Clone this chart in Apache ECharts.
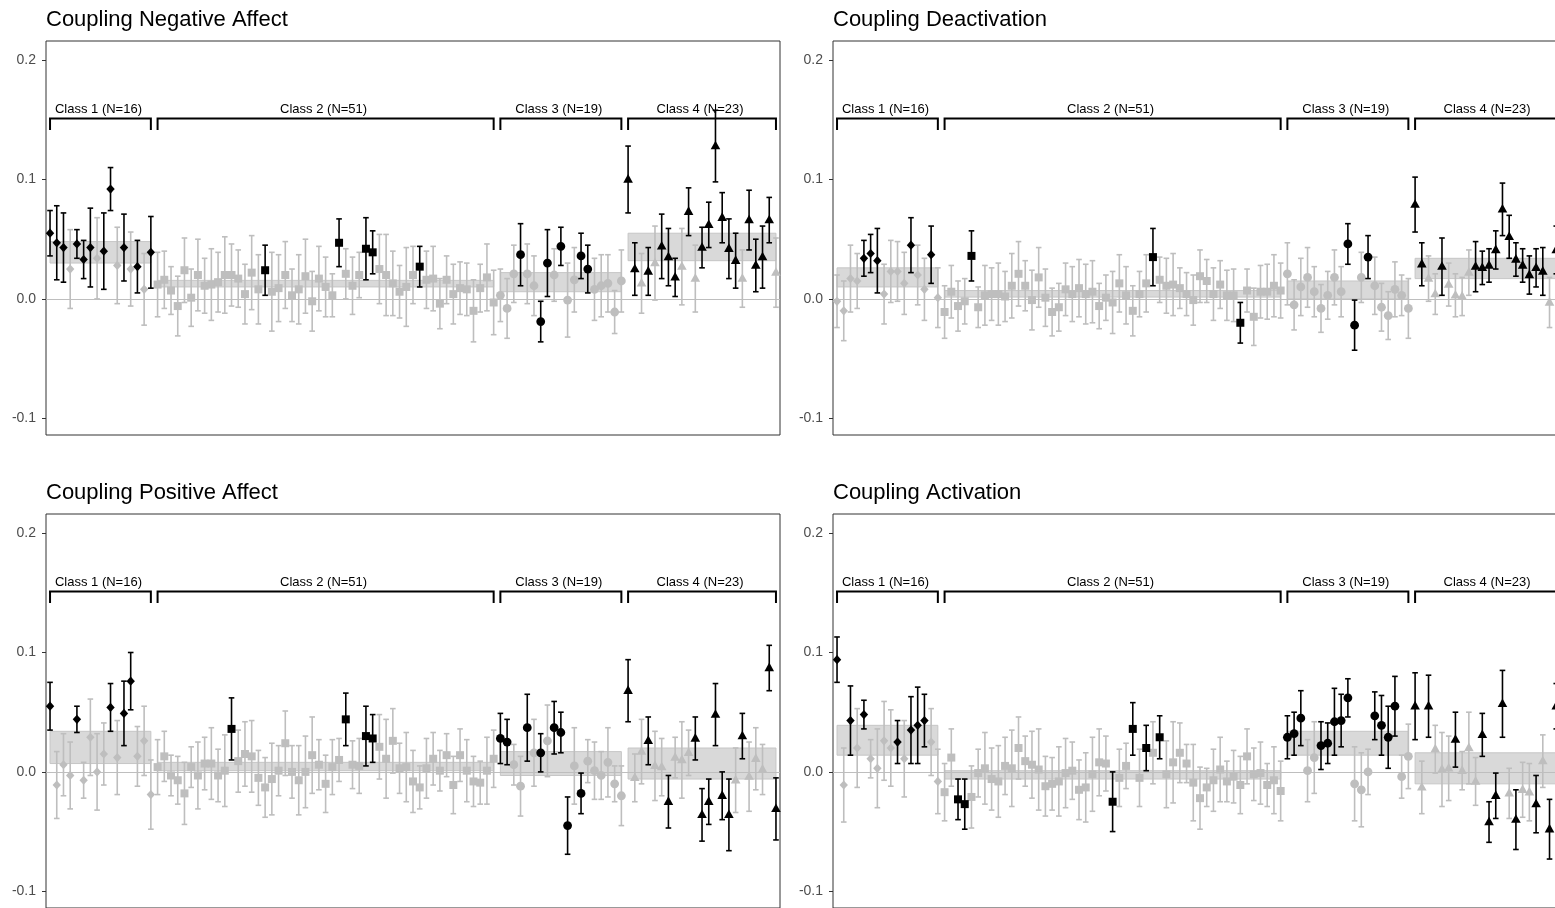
<!DOCTYPE html>
<html lang="en">
<head>
<meta charset="UTF-8">
<title>Coupling by class</title>
<script src="https://cdn.jsdelivr.net/npm/echarts@6/dist/echarts.min.js"></script>
<style>
  html, body { margin: 0; padding: 0; background: #fff; overflow: hidden; }
  #main { width: 1580px; height: 920px; }
</style>
</head>
<body>
<div id="main"></div>
<script>
// class sizes and labels, shared by all four panels
const classN = [16, 51, 19, 23];
const classNames = ['Class 1 (N=16)', 'Class 2 (N=51)', 'Class 3 (N=19)', 'Class 4 (N=23)'];
const yTicks = [-0.1, 0, 0.1, 0.2];
const titles = ['Coupling Negative Affect', 'Coupling Deactivation', 'Coupling Positive Affect', 'Coupling Activation'];

// Coupling Negative Affect
const naVal = [
  0.055, 0.047, 0.043, 0.025, 0.046, 0.033, 0.043, 0.034, 0.040, 0.092, 0.028, 0.043, 0.025, 0.027, 0.008, 0.039,
  0.012, 0.016, 0.007, -0.006, 0.024, 0.001, 0.020, 0.011, 0.012, 0.014, 0.020, 0.020, 0.017, 0.004, 0.022, 0.008, 0.024,
  0.006, 0.009, 0.020, 0.003, 0.008, 0.019, -0.002, 0.017, 0.010, 0.003, 0.047, 0.021, 0.011, 0.020, 0.042, 0.039, 0.025,
  0.020, 0.013, 0.006, 0.010, 0.020, 0.027, 0.016, 0.017, -0.004, 0.016, 0.004, 0.009, 0.008, -0.010, 0.009, 0.018, -0.003,
  0.003, -0.008, 0.021, 0.037, 0.021, 0.011, -0.019, 0.030, 0.020, 0.044, -0.001, 0.016, 0.036, 0.025, 0.008, 0.011, 0.013, -0.011, 0.015,
  0.100, 0.025, 0.013, 0.023, 0.030, 0.044, 0.035, 0.018, 0.027, 0.073, 0.017, 0.043, 0.062, 0.128, 0.068, 0.042, 0.032, 0.017, 0.066, 0.028, 0.035, 0.066, 0.022
];
const naErr = [
  0.019, 0.031, 0.029, 0.033, 0.012, 0.016, 0.033, 0.034, 0.032, 0.018, 0.032, 0.028, 0.031, 0.022, 0.030, 0.030,
  0.027, 0.024, 0.020, 0.025, 0.027, 0.024, 0.030, 0.023, 0.030, 0.025, 0.032, 0.026, 0.024, 0.025, 0.031, 0.029, 0.021,
  0.033, 0.028, 0.028, 0.022, 0.029, 0.031, 0.025, 0.027, 0.025, 0.018, 0.020, 0.021, 0.024, 0.019, 0.026, 0.018, 0.029,
  0.034, 0.027, 0.022, 0.033, 0.024, 0.017, 0.024, 0.027, 0.021, 0.020, 0.025, 0.022, 0.022, 0.026, 0.020, 0.028, 0.027,
  0.022, 0.025, 0.024, 0.026, 0.025, 0.025, 0.017, 0.028, 0.022, 0.016, 0.031, 0.027, 0.019, 0.020, 0.026, 0.026, 0.024, 0.018, 0.026,
  0.028, 0.022, 0.025, 0.020, 0.031, 0.027, 0.024, 0.016, 0.032, 0.020, 0.028, 0.017, 0.019, 0.030, 0.021, 0.025, 0.023, 0.024, 0.025, 0.022, 0.026, 0.019, 0.029
];
const naBlack = [1, 2, 3, 5, 6, 7, 9, 10, 12, 14, 16, 33, 44, 48, 49, 56, 71, 74, 75, 77, 80, 81,
  87, 88, 90, 92, 93, 94, 96, 98, 99, 100, 101, 102, 103, 105, 106, 107, 108];
const naBand = [[0.030, 0.048], [0.010, 0.0155], [0.006, 0.022], [0.032, 0.055]];

// Coupling Deactivation
const deVal = [
  -0.002, -0.010, 0.017, 0.015, 0.034, 0.038, 0.032, 0.004, 0.023, 0.023, 0.013, 0.045, 0.020, 0.008, 0.037, 0.001,
  -0.011, 0.006, -0.006, -0.002, 0.036, -0.007, 0.003, 0.004, 0.004, 0.002, 0.011, 0.021, 0.011, -0.001, 0.018, 0.001, -0.011,
  -0.007, 0.008, 0.004, 0.009, 0.004, 0.006, -0.006, 0.001, -0.003, 0.013, 0.003, -0.010, 0.004, 0.013, 0.035, 0.016, 0.011,
  0.012, 0.009, 0.004, -0.001, 0.019, 0.015, 0.004, 0.012, 0.003, 0.003, -0.020, 0.007, -0.015, 0.006, 0.006, 0.011, 0.007,
  0.021, -0.005, 0.010, 0.018, 0.006, -0.008, 0.003, 0.018, 0.006, 0.046, -0.022, 0.018, 0.035, 0.011, -0.007, -0.014, 0.008, 0.003, -0.008,
  0.079, 0.029, 0.017, 0.004, 0.027, 0.012, 0.003, 0.002, 0.022, 0.027, 0.026, 0.028, 0.041, 0.075, 0.052, 0.033, 0.028, 0.020, 0.026, 0.023, -0.003, 0.041, 0.020
];
const deErr = [
  0.022, 0.025, 0.028, 0.023, 0.015, 0.016, 0.027, 0.025, 0.026, 0.025, 0.026, 0.023, 0.025, 0.026, 0.024, 0.025,
  0.022, 0.022, 0.021, 0.019, 0.021, 0.017, 0.025, 0.022, 0.026, 0.021, 0.027, 0.027, 0.021, 0.025, 0.025, 0.024, 0.020,
  0.020, 0.022, 0.023, 0.024, 0.025, 0.026, 0.019, 0.019, 0.026, 0.024, 0.024, 0.021, 0.019, 0.024, 0.024, 0.019, 0.023,
  0.026, 0.017, 0.018, 0.021, 0.022, 0.018, 0.022, 0.020, 0.021, 0.022, 0.017, 0.018, 0.024, 0.022, 0.023, 0.026, 0.023,
  0.026, 0.021, 0.024, 0.025, 0.021, 0.020, 0.020, 0.023, 0.021, 0.017, 0.021, 0.021, 0.018, 0.024, 0.020, 0.020, 0.023, 0.017, 0.025,
  0.023, 0.018, 0.019, 0.017, 0.024, 0.018, 0.018, 0.016, 0.019, 0.021, 0.014, 0.014, 0.016, 0.022, 0.018, 0.014, 0.014, 0.016, 0.016, 0.020, 0.021, 0.020, 0.022
];
const deBlack = [5, 6, 7, 12, 15, 21, 48, 61, 77, 78, 80,
  87, 88, 91, 96, 97, 98, 99, 100, 101, 102, 103, 104, 105, 106, 108];
const deBand = [[0.010, 0.026], [0.0015, 0.007], [0.000, 0.015], [0.017, 0.034]];

// Coupling Positive Affect
const paVal = [
  0.055, -0.011, 0.006, -0.003, 0.044, -0.007, 0.029, 0.000, 0.015, 0.054, 0.012, 0.049, 0.076, 0.013, 0.026, -0.019,
  0.004, 0.013, -0.003, -0.007, -0.018, 0.004, -0.003, 0.007, 0.007, -0.003, 0.001, 0.036, 0.009, 0.015, 0.013, -0.005, -0.013,
  -0.006, 0.001, 0.024, 0.000, -0.007, 0.000, 0.014, 0.006, -0.010, 0.004, 0.010, 0.044, 0.006, 0.005, 0.030, 0.028, 0.021,
  0.011, 0.026, 0.003, 0.004, -0.008, -0.013, 0.003, 0.011, 0.001, 0.014, -0.011, 0.014, 0.001, -0.008, -0.009, 0.001, 0.011,
  0.028, 0.025, 0.006, -0.012, 0.037, 0.016, 0.016, 0.026, 0.037, 0.033, -0.045, 0.005, -0.018, 0.009, 0.001, -0.003, 0.008, -0.010, -0.020,
  0.068, -0.005, 0.017, 0.026, 0.005, 0.004, -0.025, 0.012, 0.010, 0.016, 0.028, -0.036, -0.025, 0.048, -0.020, -0.036, -0.007, 0.030, -0.004, 0.011, 0.002, 0.087, -0.031
];
const paErr = [
  0.020, 0.028, 0.026, 0.028, 0.011, 0.015, 0.032, 0.032, 0.026, 0.020, 0.031, 0.027, 0.024, 0.025, 0.029, 0.029,
  0.023, 0.021, 0.017, 0.020, 0.026, 0.017, 0.028, 0.022, 0.030, 0.022, 0.030, 0.026, 0.026, 0.027, 0.030, 0.023, 0.025,
  0.030, 0.021, 0.027, 0.022, 0.029, 0.030, 0.032, 0.021, 0.024, 0.023, 0.018, 0.022, 0.020, 0.023, 0.025, 0.020, 0.027,
  0.033, 0.027, 0.021, 0.029, 0.026, 0.018, 0.025, 0.022, 0.017, 0.018, 0.024, 0.022, 0.026, 0.021, 0.018, 0.028, 0.024,
  0.021, 0.019, 0.017, 0.025, 0.028, 0.028, 0.016, 0.030, 0.022, 0.017, 0.024, 0.032, 0.017, 0.018, 0.024, 0.020, 0.029, 0.015, 0.025,
  0.026, 0.020, 0.027, 0.020, 0.029, 0.024, 0.022, 0.017, 0.032, 0.019, 0.018, 0.022, 0.019, 0.026, 0.020, 0.030, 0.027, 0.019, 0.029, 0.026, 0.021, 0.019, 0.026
];
const paBlack = [1, 5, 10, 12, 13, 28, 45, 48, 49, 68, 69, 72, 74, 76, 77, 78, 80,
  87, 90, 93, 97, 98, 99, 100, 101, 102, 104, 108, 109];
const paBand = [[0.007, 0.034], [0.001, 0.008], [-0.003, 0.017], [-0.006, 0.020]];

// Coupling Activation
const acVal = [
  0.094, -0.011, 0.043, 0.020, 0.048, 0.011, 0.003, 0.026, 0.020, 0.025, 0.011, 0.035, 0.039, 0.043, 0.025, -0.008,
  -0.017, 0.012, -0.023, -0.027, -0.021, -0.001, 0.003, -0.006, -0.008, 0.005, 0.003, 0.020, 0.009, 0.006, 0.002, -0.012, -0.010,
  -0.008, -0.001, 0.001, -0.015, -0.013, -0.002, 0.008, 0.007, -0.025, -0.005, 0.005, 0.036, -0.005, 0.020, 0.016, 0.029, -0.002,
  0.008, 0.016, 0.007, -0.009, -0.022, -0.013, -0.007, 0.002, -0.008, -0.004, -0.011, 0.013, -0.002, -0.001, -0.011, -0.007, -0.016,
  0.029, 0.032, 0.045, 0.001, 0.012, 0.022, 0.024, 0.042, 0.043, 0.062, -0.010, -0.015, 0.000, 0.047, 0.039, 0.029, 0.055, -0.004, 0.013,
  0.055, -0.013, 0.055, 0.019, 0.002, 0.003, 0.027, 0.001, 0.020, -0.008, 0.031, -0.042, -0.020, 0.057, -0.018, -0.040, -0.015, -0.017, -0.027, 0.009, -0.048, 0.055, 0.000
];
const acErr = [
  0.019, 0.031, 0.029, 0.033, 0.012, 0.016, 0.033, 0.033, 0.032, 0.018, 0.032, 0.028, 0.032, 0.022, 0.028, 0.027,
  0.024, 0.024, 0.017, 0.021, 0.026, 0.020, 0.030, 0.026, 0.030, 0.024, 0.032, 0.026, 0.021, 0.028, 0.034, 0.025, 0.022,
  0.029, 0.029, 0.024, 0.025, 0.029, 0.031, 0.028, 0.023, 0.025, 0.024, 0.019, 0.022, 0.024, 0.019, 0.026, 0.018, 0.028,
  0.034, 0.025, 0.016, 0.032, 0.026, 0.016, 0.026, 0.027, 0.017, 0.022, 0.024, 0.023, 0.022, 0.026, 0.018, 0.028, 0.025,
  0.018, 0.018, 0.023, 0.026, 0.030, 0.020, 0.017, 0.028, 0.022, 0.016, 0.031, 0.031, 0.019, 0.020, 0.025, 0.026, 0.025, 0.018, 0.027,
  0.028, 0.022, 0.026, 0.020, 0.031, 0.027, 0.023, 0.016, 0.030, 0.020, 0.018, 0.017, 0.019, 0.028, 0.021, 0.025, 0.023, 0.024, 0.024, 0.022, 0.025, 0.019, 0.025
];
const acBlack = [1, 3, 5, 10, 12, 13, 14, 19, 20, 42, 45, 47, 49,
  68, 69, 70, 73, 74, 75, 76, 77, 81, 82, 83, 84,
  87, 89, 93, 97, 98, 99, 100, 102, 105, 107, 108];
const acBand = [[0.014, 0.039], [-0.006, 0.001], [0.014, 0.034], [-0.010, 0.016]];

const FONT = '"Liberation Sans", Arial, sans-serif';
const total = classN.reduce((a, b) => a + b, 0);

// first/last point index of each class (1-based)
const starts = [], ends = [];
let acc = 0;
classN.forEach(n => { starts.push(acc + 1); ends.push(acc + n); acc += n; });

function classOf(i) {
  for (let c = 0; c < classN.length; c++) if (i >= starts[c] && i <= ends[c]) return c;
  return 0;
}

const panels = [
  {val: naVal, err: naErr, black: naBlack, band: naBand, left: 46, top: 41},
  {val: deVal, err: deErr, black: deBlack, band: deBand, left: 833, top: 41},
  {val: paVal, err: paErr, black: paBlack, band: paBand, left: 46, top: 514},
  {val: acVal, err: acErr, black: acBlack, band: acBand, left: 833, top: 514}
];
panels.forEach((p, k) => {
  if (p.val.length !== total || p.err.length !== total) throw new Error('panel ' + k + ' lengths ' + p.val.length + '/' + p.err.length);
});

function marker(cls, x, y, col) {
  if (cls === 0) return {type: 'polygon', shape: {points: [[x, y - 4.6], [x + 4.2, y], [x, y + 4.6], [x - 4.2, y]]}, style: {fill: col}};
  if (cls === 1) return {type: 'rect', shape: {x: x - 4, y: y - 4, width: 8, height: 8}, style: {fill: col}};
  if (cls === 2) return {type: 'circle', shape: {cx: x, cy: y, r: 4.4}, style: {fill: col}};
  return {type: 'polygon', shape: {points: [[x, y - 5.4], [x + 4.8, y + 3.2], [x - 4.8, y + 3.2]]}, style: {fill: col}};
}

function renderPoint(params, api) {
  const x = api.value(0), v = api.value(1), e = api.value(2), cls = api.value(3), blk = api.value(4);
  const col = blk ? '#000000' : '#bebebe';
  const c = api.coord([x, v]);
  const hi = api.coord([x, v + e])[1];
  const lo = api.coord([x, v - e])[1];
  const w = 2.8;
  return {
    type: 'group',
    children: [
      {type: 'line', shape: {x1: c[0], y1: hi, x2: c[0], y2: lo}, style: {stroke: col, lineWidth: 1.6}},
      {type: 'line', shape: {x1: c[0] - w, y1: hi, x2: c[0] + w, y2: hi}, style: {stroke: col, lineWidth: 1.6}},
      {type: 'line', shape: {x1: c[0] - w, y1: lo, x2: c[0] + w, y2: lo}, style: {stroke: col, lineWidth: 1.6}},
      marker(cls, c[0], c[1], col)
    ]
  };
}

function renderBand(params, api) {
  const a = api.coord([api.value(0), api.value(3)]);
  const b = api.coord([api.value(1), api.value(2)]);
  return {
    type: 'rect',
    shape: {x: a[0], y: a[1], width: b[0] - a[0], height: b[1] - a[1]},
    style: {fill: '#d9d9d9', stroke: '#c6c6c6', lineWidth: 1}
  };
}

// brackets above each class with its label
function renderBracket(params, api) {
  const s = api.value(0), e = api.value(1), c = api.value(2);
  const p1 = api.coord([s, 0.1415]), p2 = api.coord([s, 0.151]);
  const p3 = api.coord([e, 0.151]), p4 = api.coord([e, 0.1415]);
  const t = api.coord([(s + e) / 2, 0.159]);
  return {
    type: 'group',
    children: [
      {type: 'polyline', shape: {points: [p1, p2, p3, p4]}, style: {stroke: '#000', lineWidth: 2, fill: null}},
      {type: 'text', x: t[0] - 2, y: t[1], style: {text: classNames[c], fill: '#000', font: '13px ' + FONT, align: 'center', verticalAlign: 'middle'}}
    ]
  };
}

function pointData(p, wantBlack) {
  const out = [];
  p.val.forEach((v, i) => {
    const blk = p.black.indexOf(i + 1) >= 0 ? 1 : 0;
    if (blk === wantBlack) out.push([i + 1, v, p.err[i], classOf(i + 1), blk]);
  });
  return out;
}

const option = {
  animation: false,
  backgroundColor: '#ffffff',
  title: panels.map((p, k) => ({
    text: titles[k],
    left: p.left,
    top: p.top - 32,
    padding: 0,
    textStyle: {fontSize: 22, fontWeight: 'normal', color: '#000', fontFamily: FONT}
  })),
  grid: panels.map(p => ({
    left: p.left, top: p.top, width: 734, height: 394,
    show: true, borderColor: '#333333', borderWidth: 1, backgroundColor: 'transparent'
  })),
  xAxis: panels.map((p, k) => ({
    type: 'value', gridIndex: k, min: 0.4, max: total + 0.6, show: false
  })),
  yAxis: panels.map((p, k) => ({
    type: 'value', gridIndex: k, min: -0.114, max: 0.216,
    splitLine: {show: false},
    axisLine: {show: false},
    axisTick: {show: true, length: 4, lineStyle: {color: '#333333'}, customValues: yTicks},
    axisLabel: {customValues: yTicks, formatter: v => v.toFixed(1), color: '#4d4d4d', fontSize: 14, margin: 10, fontFamily: FONT}
  })),
  series: []
};

panels.forEach((p, k) => {
  option.series.push({
    type: 'custom', xAxisIndex: k, yAxisIndex: k, z: 1, silent: true,
    renderItem: renderBand,
    data: p.band.map((b, c) => [starts[c], ends[c], b[0], b[1]])
  });
  option.series.push({
    type: 'custom', xAxisIndex: k, yAxisIndex: k, z: 2, silent: true,
    renderItem: renderBracket,
    data: classN.map((n, c) => [starts[c], ends[c], c]),
    markLine: {
      silent: true, symbol: 'none', z: 2,
      label: {show: false},
      lineStyle: {color: '#bebebe', width: 1, type: 'solid'},
      data: [{yAxis: 0}]
    }
  });
  option.series.push({
    type: 'custom', xAxisIndex: k, yAxisIndex: k, z: 3, silent: true,
    renderItem: renderPoint, data: pointData(p, 0)
  });
  option.series.push({
    type: 'custom', xAxisIndex: k, yAxisIndex: k, z: 4, silent: true,
    renderItem: renderPoint, data: pointData(p, 1)
  });
});

const chart = echarts.init(document.getElementById('main'), null, {renderer: 'canvas'});
chart.setOption(option);
</script>
</body>
</html>
